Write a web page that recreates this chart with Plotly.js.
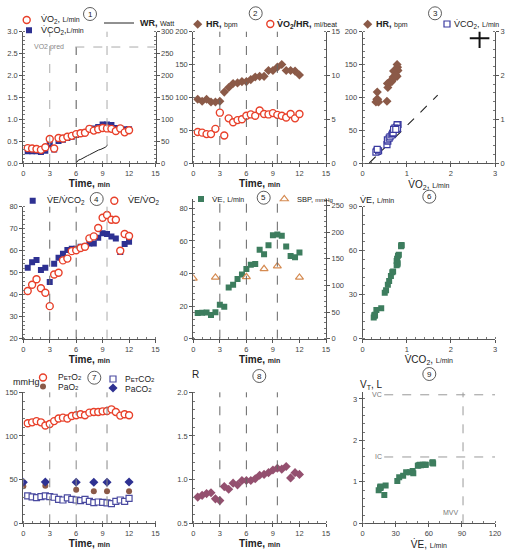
<!DOCTYPE html>
<html><head><meta charset="utf-8">
<script src="https://cdn.plot.ly/plotly-3.0.1.min.js"></script>
<style>html,body{margin:0;padding:0;background:#fff}#chart{width:512px;height:551px}</style>
</head><body><div id="chart"></div>
<script>
// ---------------- DATA ----------------
const time = [0.5,1,1.5,2,2.5,3,3.5,4,4.5,5,5.5,6,6.5,7,7.5,8,8.5,9,9.5,10,10.5,11,11.5,12];
const vo2 = [0.34,0.33,0.32,0.30,0.36,0.55,0.33,0.57,0.56,0.60,0.62,0.66,0.68,0.69,0.78,0.74,0.77,0.80,0.79,0.78,0.73,0.79,0.70,0.75];
const vco2 = [0.27,0.27,0.27,0.25,0.28,0.42,0.31,0.50,0.53,0.57,0.60,0.64,0.67,0.69,0.78,0.79,0.82,0.88,0.88,0.87,0.80,0.79,0.77,0.77];
const wrTime = [6.0,6.27,6.53,6.76,7.03,7.29,7.52,7.79,7.97,8.28,8.54,8.81,9.04,9.3,9.57];
const wrWatt = [0,6.9,8.4,11.4,13.7,16.8,19,22,24.4,26,29.7,31.3,32.8,35.9,41.2];
const hr = [97,94,97,93,93,94,108,115,121,122,124,124,127,131,132,132,141,141,146,150,141,141,140,134];
const vo2hr = [3.55,3.47,3.3,3.3,3.9,5.75,3.15,5.1,4.65,4.9,5.0,5.4,5.55,5.4,6.0,5.6,5.55,5.7,5.5,5.4,5.2,5.6,5.1,5.6];
const veVco2 = [52.3,54.7,55.8,51.2,52.3,45.8,54.1,56.8,58.6,60.3,60.9,60.9,61.8,61.8,63.3,63.3,65.9,67.9,67.6,66.4,65.5,59.4,63.0,64.1];
const veVo2 = [41.7,44.5,47.0,42.9,40.9,34.8,49.2,50.0,55.6,56.4,59.8,60.2,61.2,61.8,65.6,66.5,70.3,75.0,76.2,74.1,74.1,60.0,67.6,66.7];
const ve = [15.7,15.9,16.1,14.5,16.3,20.8,19.6,31.4,33.1,36.7,39.4,42.7,45.3,45.9,54.5,51.8,57.3,63.5,63.9,63.1,56.5,50.8,50.0,52.9];
const peto2 = [114.5,115.6,117,115.6,112,113.7,117,120,121,120,122.9,123.7,124.8,123.7,126.7,127.5,127.5,128.2,128.6,130.5,127.5,123.3,124.8,123.7];
const petco2 = [31.3,30.2,29.4,30.5,31.3,30.5,29.8,27.5,26.7,29,27.5,26.7,26,27.5,25.2,23.7,24.4,24,23.3,22.5,25.2,26.7,25.2,28.6];
const rer = [0.80,0.82,0.84,0.85,0.78,0.76,0.92,0.89,0.96,0.94,0.99,0.99,0.99,1.01,1.05,1.06,1.08,1.11,1.13,1.12,1.15,1.02,1.08,1.06];
const vt = [0.85,0.87,0.89,0.80,0.86,0.91,0.68,1.02,1.11,1.15,1.23,1.23,1.26,1.21,1.41,1.41,1.41,1.47,1.44,1.46,1.41,1.40,1.39,1.40];
const bloodTime = [0,2.5,6,8,9.5,12];
const sbp = [113,115,116,131,136,115];
const pao2 = [42.4,43.1,38.5,36.6,36.6,36.6];
const paco2 = [47,47.3,47,47,47,47.3];
const phaseTimes = [3,6,9.5];
const vo2Pred = 2.65, hrPred = 190;
const slopeLineVO2 = [0.15,1.7], slopeLineVCO2 = [0,1.55];
const vcL = 3.1, icL = 1.6, mvv = 91;
const timeTicks = [0,3,6,9,12,15];

// ---------------- LAYOUT HELPERS ----------------
const W = 512, H = 551;
const FONT = 'Liberation Sans, Arial, sans-serif';
const RED = '#e8402a', NAVY = '#2e3192', BROWN = '#8b5a48', GREEN = '#3d7d5e', MAUVE = '#94506f', ORANGE = '#d58b52';
const colDom = [[23.3/W,155.5/W],[193.3/W,326/W],[362.7/W,495/W]];
const rowDom = r => [1 - r[0]/H, 1 - r[1]/H];
const row1 = rowDom([163,31.7]), row2 = rowDom([338.7,206.7]), row2b = rowDom([338.7,199]), row3 = rowDom([523.3,392.3]);

function ax(extra, minorD){
  const a = {showline:true, linecolor:'#555', linewidth:1, ticks:'outside', ticklen:3, tickcolor:'#555',
    tickfont:{size:7.5, color:'#444'}, showgrid:false, zeroline:false, fixedrange:true};
  if (minorD) a.minor = {ticks:'inside', ticklen:2, tickcolor:'#777', dtick:minorD, showgrid:false};
  return Object.assign(a, extra);
}
const small = t => '<span style="font-size:7px">' + t + '</span>';
const tiny = t => '<span style="font-size:6px">' + t + '</span>';
const timeTitle = {text:'<b>Time, ' + small('min') + '</b>', font:{size:10, color:'#222'}, standoff:1};
function timeX(col, anchor){ return ax({domain:colDom[col], range:[0,15], tickvals:timeTicks, anchor:anchor, title:timeTitle}, 1); }

const openC = c => ({symbol:'circle', size:7, color:'#fff', line:{color:c, width:1.4}});
const openS = c => ({symbol:'square', size:6, color:'#fff', line:{color:c, width:1.2}});

const traces = [];
function add(t){ t.showlegend = !!t.legend; if (t.legend) t.name = ' '; traces.push(t); }

// Panel 1
add({x:time, y:vco2, xaxis:'x', yaxis:'y', mode:'markers', marker:{symbol:'square', size:6, color:NAVY}, legend:'legend2'});
add({x:time, y:vo2, xaxis:'x', yaxis:'y', mode:'markers', marker:openC(RED), legend:'legend'});
add({x:wrTime, y:wrWatt, xaxis:'x', yaxis:'y10', mode:'lines', line:{color:'#222', width:1}, legend:'legend3'});
// Panel 2
add({x:time, y:hr, xaxis:'x2', yaxis:'y2', mode:'markers', marker:{symbol:'diamond', size:7, color:BROWN}, legend:'legend4'});
add({x:time, y:vo2hr, xaxis:'x2', yaxis:'y11', mode:'markers', marker:openC(RED), legend:'legend5'});
// Panel 3
add({x:slopeLineVO2, y:slopeLineVCO2, xaxis:'x3', yaxis:'y12', mode:'lines', line:{color:'#222', width:1.1, dash:'dash'}});
add({x:vo2, y:hr, xaxis:'x3', yaxis:'y3', mode:'markers', marker:{symbol:'diamond', size:7, color:BROWN}, legend:'legend6'});
add({x:vo2, y:vco2, xaxis:'x3', yaxis:'y12', mode:'markers', marker:openS('#3b3ba0'), legend:'legend7'});
add({x:[vo2Pred], y:[hrPred], xaxis:'x3', yaxis:'y3', mode:'markers',
  marker:{symbol:'cross-thin', size:14, line:{color:'#111', width:2}}});
// Panel 4
add({x:time, y:veVco2, xaxis:'x4', yaxis:'y4', mode:'markers', marker:{symbol:'square', size:6, color:NAVY}, legend:'legend8'});
add({x:time, y:veVo2, xaxis:'x4', yaxis:'y4', mode:'markers', marker:openC(RED), legend:'legend9'});
// Panel 5
add({x:bloodTime, y:sbp, xaxis:'x5', yaxis:'y13', mode:'markers',
  marker:{symbol:'triangle-up', size:7, color:'#fff', line:{color:ORANGE, width:1.2}}, legend:'legend11'});
add({x:time, y:ve, xaxis:'x5', yaxis:'y5', mode:'markers', marker:{symbol:'square', size:6, color:GREEN}, legend:'legend10'});
// Panel 6
add({x:vco2, y:ve, xaxis:'x6', yaxis:'y6', mode:'markers', marker:{symbol:'square', size:6, color:GREEN}});
// Panel 7
add({x:time, y:peto2, xaxis:'x7', yaxis:'y7', mode:'markers', marker:openC(RED), legend:'legend12'});
add({x:time, y:petco2, xaxis:'x7', yaxis:'y7', mode:'markers', marker:openS('#4a4aa0'), legend:'legend14'});
add({x:bloodTime, y:pao2, xaxis:'x7', yaxis:'y7', mode:'markers', marker:{symbol:'circle', size:6, color:BROWN}, legend:'legend13'});
add({x:bloodTime, y:paco2, xaxis:'x7', yaxis:'y7', mode:'markers', marker:{symbol:'diamond', size:7, color:NAVY}, legend:'legend15'});
// Panel 8
add({x:time, y:rer, xaxis:'x8', yaxis:'y8', mode:'markers', marker:{symbol:'diamond', size:7, color:MAUVE}});
// Panel 9
add({x:ve, y:vt, xaxis:'x9', yaxis:'y9', mode:'markers', marker:{symbol:'square', size:6, color:GREEN}});

// ---------------- LAYOUT ----------------
const layout = {
  width:W, height:H, margin:{l:0,r:0,t:0,b:0}, paper_bgcolor:'#fff', plot_bgcolor:'rgba(0,0,0,0)',
  font:{family:FONT, size:9, color:'#222'}, hovermode:false,
  xaxis: timeX(0,'y'),
  yaxis: ax({domain:row1, range:[0,3], dtick:0.5, tickformat:'.1f', anchor:'x'}, 0.1),
  yaxis10: ax({overlaying:'y', side:'right', anchor:'x', range:[0,300], dtick:50}, 10),
  xaxis2: timeX(1,'y2'),
  yaxis2: ax({domain:row1, range:[0,200], dtick:50, anchor:'x2'}, 10),
  yaxis11: ax({overlaying:'y2', side:'right', anchor:'x2', range:[0,15], dtick:5}, 1),
  xaxis3: ax({domain:colDom[2], range:[0,3], dtick:1, anchor:'y3',
    title:{text:'V̇O<sub>2</sub>, ' + small('L/min'), font:{size:10}, standoff:1}}, 0.2),
  yaxis3: ax({domain:row1, range:[0,200], dtick:50, anchor:'x3'}, 10),
  yaxis12: ax({overlaying:'y3', side:'right', anchor:'x3', range:[0,3], dtick:1}, 0.2),
  xaxis4: timeX(0,'y4'),
  yaxis4: ax({domain:row2, range:[20,80], dtick:10, anchor:'x4'}, 2),
  xaxis5: timeX(1,'y5'),
  yaxis5: ax({domain:row2b, range:[0,85.7], dtick:20, anchor:'x5'}, 4),
  yaxis13: ax({overlaying:'y5', side:'right', anchor:'x5', range:[0,262], dtick:50}, 10),
  xaxis6: ax({domain:colDom[2], range:[0,3], dtick:1, anchor:'y6',
    title:{text:'V̇CO<sub>2</sub>, ' + small('L/min'), font:{size:10}, standoff:1}}, 0.2),
  yaxis6: ax({domain:row2, range:[0,90], dtick:30, anchor:'x6'}, 6),
  xaxis7: timeX(0,'y7'),
  yaxis7: ax({domain:row3, range:[0,150], dtick:50, anchor:'x7'}, 10),
  xaxis8: timeX(1,'y8'),
  yaxis8: ax({domain:row3, range:[0.5,2.0], dtick:0.5, tickformat:'.1f', anchor:'x8'}, 0.1),
  xaxis9: ax({domain:colDom[2], range:[0,120], dtick:30, anchor:'y9',
    title:{text:'V̇E, ' + small('L/min'), font:{size:10}, standoff:1}}, 10),
  yaxis9: ax({domain:row3, range:[0,3.16], tickvals:[0,1,2,3], anchor:'x9'}, 0.2),
  shapes:[], annotations:[]
};

// legend symbols (Plotly legends, one per entry) + key texts as annotations
function lg(cx, cy){ return {x:(cx-19)/W, y:1-cy/H, xanchor:'left', yanchor:'middle', orientation:'v',
  bgcolor:'rgba(0,0,0,0)', borderwidth:0, font:{size:7, color:'#222', family:FONT}, itemclick:false, itemdoubleclick:false}; }
const legPos = [[25.7,20],[28,30.3],[118,23],[196.7,24.3],[269.3,24],[366.7,24.3],[446,24],[31.7,200.7],[113.3,200.7],
  [200,199],[283.3,199],[42,377.5],[42,386.5],[112,379],[112,388]];
legPos.forEach((p,i) => { layout[i === 0 ? 'legend' : 'legend' + (i+1)] = lg(p[0], p[1]); });

function pa(x, y, text, size, anchor, color){ layout.annotations.push({xref:'paper', yref:'paper', x:x/W, y:1-y/H, text:text,
  showarrow:false, xanchor:anchor || 'left', yanchor:'middle', font:{size:size || 9, color:color || '#222'}}); }
pa(39, 20, 'V̇O<sub>2</sub>, ' + small('L/min'), 9);
pa(39, 30.5, 'V̇CO<sub>2</sub>,' + small('L/min'), 9);
pa(138, 23, '<b>WR,</b> ' + small('Watt'), 9);
pa(204, 24.3, '<b>HR,</b> ' + small('bpm'), 9);
pa(275, 24, '<b>V̇O<sub>2</sub>/HR,</b> ' + small('ml/beat'), 9);
pa(374, 24.3, '<b>HR,</b> ' + small('bpm'), 9);
pa(452, 24, 'V̇CO<sub>2</sub>, ' + small('L/min'), 9);
pa(44.5, 200.7, 'V̇E/V̇CO<sub>2</sub>', 9);
pa(126, 200.7, 'V̇E/V̇O<sub>2</sub>', 9);
pa(210, 199, 'V̇E, ' + small('L/min'), 8);
pa(295, 199, 'SBP, ' + tiny('mmHg'), 7.5);
pa(56, 377, 'P' + tiny('ET') + 'O' + tiny('2'), 8.5);
pa(56, 386.5, 'PaO' + tiny('2'), 8.5);
pa(123, 379, 'P' + tiny('ET') + 'CO' + tiny('2'), 8.5);
pa(123, 388.5, 'PaCO' + tiny('2'), 8.5);

// phase lines
function vlines(xref, yref, colors, tops){
  phaseTimes.forEach((t,i) => layout.shapes.push({type:'line', xref:xref, yref:yref + ' domain', x0:t, x1:t,
    y0:0, y1:tops ? tops[i] : 1, line:{color:colors[i], width:1, dash:'dash'}}));
}
vlines('x','y',['#aaa','#555','#aaa'],[1, vo2Pred/3, 1]);
vlines('x2','y2',['#666','#666','#666']);
vlines('x4','y4',['#666','#666','#aaa']);
vlines('x5','y5',['#666','#666','#666']);
vlines('x7','y7',['#888','#888','#888']);
vlines('x8','y8',['#666','#666','#666']);
// VO2 pred
layout.shapes.push({type:'line', xref:'x', yref:'y', x0:5.9, x1:15, y0:vo2Pred, y1:vo2Pred, line:{color:'#aaa', width:1, dash:'dash'}});
layout.annotations.push({xref:'x', yref:'y', x:1.0, y:vo2Pred, text:'VO2 pred', showarrow:false, xanchor:'left',
  font:{size:7, color:'#888'}});
// Panel 9 reference lines
layout.shapes.push({type:'line', xref:'x9', yref:'y9', x0:19.5, x1:120, y0:vcL, y1:vcL, line:{color:'#999', width:1, dash:'dash'}});
layout.shapes.push({type:'line', xref:'x9', yref:'y9', x0:19.5, x1:120, y0:icL, y1:icL, line:{color:'#999', width:1, dash:'dash'}});
layout.shapes.push({type:'line', xref:'x9', yref:'y9', x0:mvv, x1:mvv, y0:0, y1:3.16, line:{color:'#999', width:1, dash:'dash'}});
layout.annotations.push({xref:'x9', yref:'y9', x:19, y:vcL, text:'VC', showarrow:false, xanchor:'right', font:{size:7, color:'#777'}});
layout.annotations.push({xref:'x9', yref:'y9', x:19, y:icL, text:'IC', showarrow:false, xanchor:'right', font:{size:7, color:'#777'}});
layout.annotations.push({xref:'x9', yref:'y9', x:89, y:0.25, text:'MVV', showarrow:false, xanchor:'right', font:{size:7, color:'#777'}});

// axis labels placed at top of axes
pa(358, 200, 'V̇E, ' + small('L/min'), 9);
pa(11, 381.5, 'mmHg', 9);
pa(190, 374, 'R', 10);
pa(358, 385, 'V<sub>T</sub>, L', 10);

// circled panel numbers
const numPos = [[90,14],[255.7,13.3],[435,13.3],[96.7,199],[263.7,197.7],[429.3,196.7],[94.3,377.7],[259.3,376],[429.3,374]];
numPos.forEach((p,i) => {
  const r = 6.5;
  layout.shapes.push({type:'circle', xref:'paper', yref:'paper', x0:(p[0]-r)/W, x1:(p[0]+r)/W, y0:1-(p[1]+r)/H, y1:1-(p[1]-r)/H,
    line:{color:'#333', width:0.8}});
  layout.annotations.push({xref:'paper', yref:'paper', x:p[0]/W, y:1-p[1]/H, text:String(i+1), showarrow:false,
    xanchor:'center', yanchor:'middle', font:{size:8, color:'#222'}});
});

Plotly.newPlot('chart', traces, layout, {staticPlot:true, displayModeBar:false});
</script></body></html>
